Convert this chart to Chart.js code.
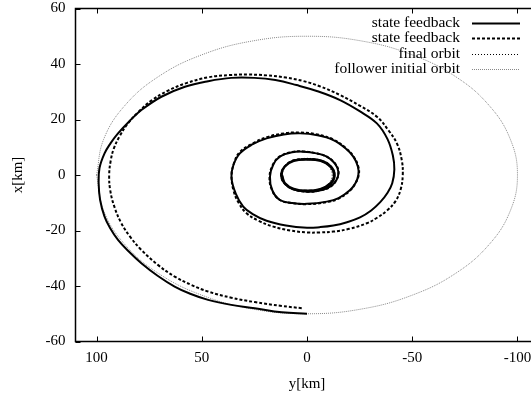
<!DOCTYPE html>
<html>
<head>
<meta charset="utf-8">
<script src="https://cdn.jsdelivr.net/npm/chart.js@4/dist/chart.umd.min.js"></script>
<style>
  html, body { margin: 0; padding: 0; background: #fff; overflow: hidden; }
  #wrap { width: 560px; height: 396px; position: relative; }
</style>
</head>
<body>
<div id="wrap"><canvas id="orbitChart"></canvas></div>
<script>
// axis ticks
const yKmTicks = [100, 50, 0, -50, -100];
const xKmTicks = [60, 40, 20, 0, -20, -40, -60];

const seriesLabels = ['state feedback', 'state feedback', 'final orbit', 'follower initial orbit'];

// state feedback (solid) - y[km], x[km]
const solidY = [0, 12, 24.8, 36, 47, 55.5, 62.9, 71, 78.7, 84.8, 89.8, 93.5, 96.2, 98.3, 99, 98.6, 96.2, 93.3, 89.8, 84.5, 78.7, 69.2, 58, 47, 36, 25, 15, 5, -5, -15.7, -25, -33.2, -38.2, -40.8, -41.5, -40.5, -38.2, -34.8, -30.5, -25.2, -19, -12.5, -6, 0, 10, 19.2, 26, 30.3, 33.8, 35.9, 35, 31.9, 26, 19.2, 11, 3.3, -5, -12.5, -18, -22, -24.2, -24.4, -23, -20.5, -15, -9.4, 0, 7, 12.9, 16.5, 17.6, 16, 12.9, 7, 1.7, -4.5, -9.4, -13.2, -14.9, -14, -11, -6, 0, 6.5, 10.7, 12.3, 10.7, 6.5, 0, -6.5, -11.3, -13.2, -11.3, -6.5, 0, 6.5, 10.5, 12, 10.5, 6.3, 0, -6.5, -11, -12.8, -11, -6.3, 0, 6.3, 10.4, 11.8];
const solidX = [-50, -49.5, -48, -46.8, -45, -42.8, -40.2, -36.3, -31.8, -27.5, -23.4, -19.2, -15, -9, -3, 2.5, 7.8, 11.5, 15, 19.3, 23.4, 28.2, 31.8, 33.8, 35, 35, 34.2, 32.4, 30.2, 27, 23, 18.6, 13, 7, 2, -3, -6.5, -9.8, -12.8, -15.3, -17, -18.2, -18.8, -19, -18.2, -16.5, -14, -11.4, -6.8, -1, 3.5, 7.8, 11, 13.2, 14.6, 15, 14.3, 12.6, 9.8, 6.6, 3, 0, -3, -5.4, -8.3, -9.6, -10.4, -10.1, -9, -5.5, -0.6, 3.8, 6.6, 8.2, 8.4, 7.8, 6.6, 4.2, 1.2, -1.8, -4.2, -5.6, -6, -5.2, -3, 0, 3, 5.2, 5.8, 5.3, 3.2, 0, -3.2, -5.2, -5.8, -5.1, -3, 0, 3, 5, 5.5, 5, 3, 0, -3, -5, -5.6, -4.9, -2.9, 0];

// state feedback (dashed)
const dashedY = [2.5, 12, 24.8, 36, 47, 55, 62.9, 71, 78.7, 84, 88.2, 91.5, 93.5, 94, 93.3, 91.8, 89, 85.1, 80, 74, 66, 57, 47, 37, 28, 19, 10, 2, -6, -15.7, -25, -33.2, -38.8, -42.7, -45, -45.5, -44.5, -42, -38, -33.3, -28.4, -20, -12.5, -6, 0, 8, 16, 23, 28.7, 32.5, 35, 35.8, 34.6, 32, 26, 19.2, 11, 3.3, -5, -12.5, -18, -22, -24.4, -24.6, -23, -20.5, -15, -9.4, 0, 7, 12.9, 16.6, 17.8, 16.1, 12.9, 7, 1.7, -4.5, -9.4, -13.3, -15, -14, -11, -6, 0, 6.5, 10.7, 12.3, 10.7, 6.5, 0, -6.5, -11.3, -13, -11.1, -6.4, 0, 6.5, 10.5, 12];
const dashedX = [-48, -47.2, -45.8, -44.2, -42, -39.6, -36.6, -32.3, -27, -22.3, -17.4, -11.5, -5.5, 0, 5, 9.5, 14, 18.6, 22.8, 26.8, 30.4, 33.2, 35.2, 36, 36.2, 35.9, 35.1, 33.9, 32, 28.8, 25, 21, 16, 11.4, 5.5, 0, -5.2, -9.5, -12.8, -15.4, -17.4, -19.4, -20.4, -20.7, -20.7, -20, -18.6, -16.5, -13.8, -10, -5.4, 0, 4.5, 8.2, 11.3, 13.6, 15, 15.3, 14.6, 12.8, 10, 6.8, 3, 0, -3, -5.6, -8.5, -9.8, -10.5, -10.1, -9, -5.5, -0.6, 3.9, 6.7, 8.3, 8.5, 7.8, 6.6, 4.2, 1.2, -1.8, -4.3, -5.6, -6, -5.2, -3, 0, 3, 5.2, 5.7, 5.2, 3.1, 0, -3.1, -5.1, -5.7, -5.1, -3, 0];

// final orbit (dotted)
const finalY = [12, 10.4, 6, 0, -6, -10.4, -12, -10.4, -6, 0, 6, 10.4, 12];
const finalX = [0, 3, 5.2, 6, 5.2, 3, 0, -3, -5.2, -6, -5.2, -3, 0];

// follower initial orbit (grey dotted)
const initY = [100, 96.6, 86.6, 70.7, 50, 25.9, 0, -25.9, -50, -70.7, -86.6, -96.6, -100, -96.6, -86.6, -70.7, -50, -25.9, 0, 25.9, 50, 70.7, 86.6, 96.6, 100];
const initX = [0, 12.9, 25, 35.4, 43.3, 48.3, 50, 48.3, 43.3, 35.4, 25, 12.9, 0, -12.9, -25, -35.4, -43.3, -48.3, -50, -48.3, -43.3, -35.4, -25, -12.9, 0];

function pts(ys, xs) {
  return ys.map(function(v, i) { return { x: v, y: xs[i] }; });
}

const FONT = 'Liberation Serif';

// gnuplot-like frame with inward ticks, plus the key
const framePlugin = {
  id: 'frame',
  afterDraw(chart) {
    const c = chart.ctx, a = chart.chartArea;
    const sx = chart.scales.x, sy = chart.scales.y;
    c.save();
    c.strokeStyle = '#000';
    c.lineWidth = 1.5;
    c.strokeRect(a.left, a.top, a.right - a.left, a.bottom - a.top);
    c.lineWidth = 1;
    c.beginPath();
    yKmTicks.forEach(function(v) {
      const px = Math.round(sx.getPixelForValue(v)) + 0.5;
      c.moveTo(px, a.bottom); c.lineTo(px, a.bottom - 5);
      c.moveTo(px, a.top); c.lineTo(px, a.top + 5);
    });
    xKmTicks.forEach(function(v) {
      const py = Math.round(sy.getPixelForValue(v)) + 0.5;
      c.moveTo(a.left, py); c.lineTo(a.left + 5, py);
      c.moveTo(a.right, py); c.lineTo(a.right - 5, py);
    });
    c.stroke();

    c.font = '15.5px "' + FONT + '"';
    c.textAlign = 'right';
    c.textBaseline = 'middle';
    chart.data.datasets.forEach(function(ds, i) {
      const y = 22.5 + i * 15.5;
      c.fillStyle = '#000';
      c.fillText(ds.label, 460, y);
      c.beginPath();
      c.strokeStyle = ds.borderColor;
      c.lineWidth = ds.borderWidth;
      c.setLineDash(ds.borderDash || []);
      c.moveTo(472, Math.round(y) + 0.5);
      c.lineTo(520, Math.round(y) + 0.5);
      c.stroke();
    });
    c.restore();
  }
};

const ctx = document.getElementById('orbitChart');
new Chart(ctx, {
  type: 'scatter',
  data: {
    datasets: [
      { label: seriesLabels[0], data: pts(solidY, solidX), showLine: true, borderColor: '#000', borderWidth: 2, tension: 0.4, pointRadius: 0 },
      { label: seriesLabels[1], data: pts(dashedY, dashedX), showLine: true, borderColor: '#000', borderWidth: 2, borderDash: [3, 2], tension: 0.4, pointRadius: 0 },
      { label: seriesLabels[2], data: pts(finalY, finalX), showLine: true, borderColor: '#000', borderWidth: 1, borderDash: [1, 2], tension: 0.4, pointRadius: 0 },
      { label: seriesLabels[3], data: pts(initY, initX), showLine: true, borderColor: '#888', borderWidth: 1, borderDash: [1, 1], tension: 0.4, pointRadius: 0 }
    ]
  },
  options: {
    responsive: true,
    maintainAspectRatio: false,
    animation: false,
    devicePixelRatio: 1,
    layout: { padding: { top: 8.5, right: 21.5, left: 0, bottom: 0 } },
    plugins: { legend: { display: false }, tooltip: { enabled: false } },
    scales: {
      x: {
        type: 'linear',
        reverse: true,
        min: -110,
        max: 110,
        afterBuildTicks: function(s) { s.ticks = yKmTicks.map(function(v) { return { value: v }; }); },
        afterFit: function(s) { s.height = 54.5; s.paddingLeft = 0; s.paddingRight = 0; },
        grid: { display: false, drawTicks: false },
        border: { display: false },
        ticks: { color: '#000', padding: 8, maxRotation: 0, font: { family: FONT, size: 15 } },
        title: { display: true, text: 'y[km]', color: '#000', padding: { top: 0, bottom: 3 }, font: { family: FONT, size: 15 } }
      },
      y: {
        type: 'linear',
        min: -60,
        max: 60,
        afterBuildTicks: function(s) { s.ticks = xKmTicks.map(function(v) { return { value: v }; }); },
        afterFit: function(s) { s.width = 75.5; s.paddingTop = 0; s.paddingBottom = 0; },
        grid: { display: false, drawTicks: false },
        border: { display: false },
        ticks: { color: '#000', padding: 10, font: { family: FONT, size: 15 } },
        title: { display: true, text: 'x[km]', color: '#000', padding: { top: 9.3, bottom: 0 }, font: { family: FONT, size: 15 } }
      }
    }
  },
  plugins: [framePlugin]
});
</script>
</body>
</html>
